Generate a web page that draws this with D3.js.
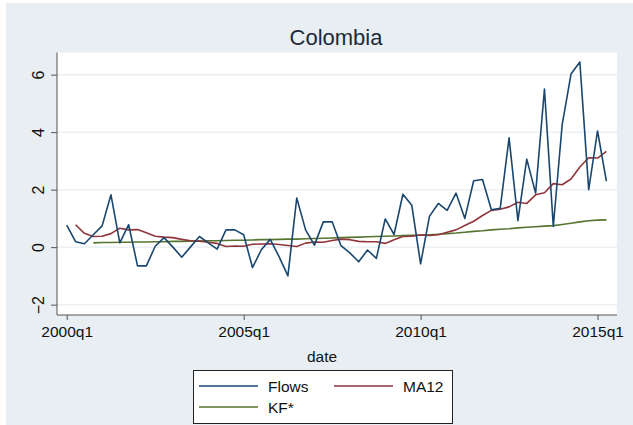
<!DOCTYPE html>
<html>
<head>
<meta charset="utf-8">
<script src="https://cdn.jsdelivr.net/npm/d3@7"></script>
<style>
  html, body { margin: 0; padding: 0; background: #ffffff; }
  svg { display: block; }
  text { font-family: "Liberation Sans", Arial, sans-serif; }
</style>
</head>
<body>
<svg id="chart" width="633" height="425"></svg>
<script>
// Quarterly capital flows for Colombia, 2000q1 - 2015q2
const startYear = 2000;
const flows = [0.77, 0.19, 0.12, 0.43, 0.74, 1.82, 0.15, 0.78, -0.65, -0.65,
               0.03, 0.33, 0.00, -0.35, 0.01, 0.37, 0.15, -0.07, 0.60, 0.60,
               0.43, -0.71, -0.09, 0.27, -0.33, -1.00, 1.71, 0.60, 0.07, 0.88,
               0.88, 0.05, -0.20, -0.51, -0.10, -0.39, 0.98, 0.44, 1.84, 1.46,
               -0.58, 1.07, 1.52, 1.28, 1.88, 1.00, 2.31, 2.35, 1.30, 1.35,
               3.80, 0.92, 3.06, 1.88, 5.50, 0.72, 4.25, 6.02, 6.44, 2.00,
               4.04, 2.30];
// 12-quarter moving average (first value missing)
const ma12 = [null, 0.78, 0.48, 0.37, 0.38, 0.47, 0.66, 0.60, 0.61, 0.50,
              0.38, 0.35, 0.33, 0.27, 0.22, 0.21, 0.17, 0.13, 0.02, 0.04,
              0.03, 0.10, 0.11, 0.12, 0.09, 0.06, 0.02, 0.14, 0.18, 0.17,
              0.23, 0.28, 0.26, 0.20, 0.19, 0.19, 0.13, 0.26, 0.37, 0.38,
              0.42, 0.41, 0.43, 0.52, 0.60, 0.75, 0.90, 1.10, 1.28, 1.32,
              1.40, 1.56, 1.52, 1.82, 1.89, 2.21, 2.17, 2.37, 2.79, 3.11,
              3.10, 3.33];
// Kalman-filtered trend (first three values missing)
const kf = [null, null, null, 0.15, 0.16, 0.16, 0.17, 0.17, 0.18, 0.18,
            0.19, 0.19, 0.20, 0.20, 0.21, 0.21, 0.22, 0.22, 0.23, 0.24,
            0.24, 0.25, 0.26, 0.26, 0.27, 0.28, 0.28, 0.29, 0.30, 0.31,
            0.32, 0.33, 0.34, 0.35, 0.36, 0.37, 0.38, 0.39, 0.40, 0.41,
            0.42, 0.43, 0.45, 0.47, 0.49, 0.52, 0.55, 0.57, 0.60, 0.62,
            0.64, 0.67, 0.69, 0.71, 0.73, 0.75, 0.79, 0.83, 0.88, 0.92,
            0.94, 0.95];
const xTickLabels = ["2000q1", "2005q1", "2010q1", "2015q1"];
const yTicks = [-2, 0, 2, 4, 6];

const seriesList = [
  { name: "Flows", values: flows, color: "#1a476f" },
  { name: "MA12",  values: ma12,  color: "#90353b" },
  { name: "KF*",   values: kf,    color: "#55752f" }
];

// quarter index of a "YYYYqN" label
const qIndex = s => (+s.slice(0, 4) - startYear) * 4 + (+s.slice(5) - 1);

const svg = d3.select("#chart");
const plot = { left: 57, right: 617, top: 52.5, bottom: 315 };

// graph region (thin white margin at top and left)
svg.append("rect").attr("width", 633).attr("height", 425).attr("fill", "#ffffff");
svg.append("rect").attr("x", 6).attr("y", 3).attr("width", 627).attr("height", 422).attr("fill", "#e8eef1");
svg.append("rect")
  .attr("x", plot.left).attr("y", plot.top)
  .attr("width", plot.right - plot.left).attr("height", plot.bottom - plot.top)
  .attr("fill", "#ffffff");

const x = d3.scaleLinear().domain([-1.1, 62.2]).range([plot.left, plot.right]);
const y = d3.scaleLinear().domain([-2.36, 6.77]).range([plot.bottom, plot.top]);

// horizontal grid
svg.append("g").selectAll("line").data(yTicks).join("line")
  .attr("x1", plot.left).attr("x2", plot.right)
  .attr("y1", d => y(d)).attr("y2", d => y(d))
  .attr("stroke", "#eaf0f3").attr("stroke-width", 1.5);

// series lines
const line = d3.line()
  .defined(d => d != null)
  .x((d, i) => x(i))
  .y(d => y(d));

svg.append("g").selectAll("path").data(seriesList.slice().reverse()).join("path")
  .attr("d", s => line(s.values))
  .attr("fill", "none")
  .attr("stroke", s => s.color)
  .attr("stroke-width", 1.6)
  .attr("stroke-linejoin", "round");

// y axis
const yAxis = d3.axisLeft(y).tickValues(yTicks).tickSize(6).tickPadding(5).tickFormat(d3.format("d"));
const gy = svg.append("g").attr("transform", `translate(${plot.left},0)`).call(yAxis);
gy.select(".domain").attr("stroke", "#555").attr("d", `M0,${plot.top}V${plot.bottom}`);
gy.selectAll(".tick line").attr("stroke", "#555");
gy.selectAll(".tick text")
  .attr("font-size", 16).attr("fill", "#111")
  .attr("text-anchor", "middle")
  .attr("x", null).attr("dy", null)
  .attr("transform", "translate(-13,0) rotate(-90)");

// x axis
const xAxis = d3.axisBottom(x)
  .tickValues(xTickLabels.map(qIndex))
  .tickSize(5).tickPadding(6)
  .tickFormat(i => xTickLabels[xTickLabels.map(qIndex).indexOf(i)]);
const gx = svg.append("g").attr("transform", `translate(0,${plot.bottom})`).call(xAxis);
gx.select(".domain").attr("stroke", "#555").attr("d", `M${plot.left},0H${plot.right}`);
gx.selectAll(".tick line").attr("stroke", "#555");
gx.selectAll(".tick text").attr("font-size", 15.5).attr("fill", "#111");

// titles
svg.append("text").attr("x", 336).attr("y", 45)
  .attr("text-anchor", "middle").attr("font-size", 22).attr("fill", "#1c2a3a")
  .text("Colombia");
svg.append("text").attr("x", 322).attr("y", 362)
  .attr("text-anchor", "middle").attr("font-size", 15.5).attr("fill", "#111")
  .text("date");

// legend
const lg = svg.append("g");
lg.append("rect").attr("x", 193.5).attr("y", 370.5).attr("width", 259).attr("height", 53)
  .attr("fill", "#ffffff").attr("stroke", "#222").attr("stroke-width", 1);
const legendPos = [
  { lx: 199, ty: 386 },
  { lx: 334, ty: 386 },
  { lx: 199, ty: 407 }
];
seriesList.forEach((s, i) => {
  const p = legendPos[i];
  lg.append("line").attr("x1", p.lx).attr("x2", p.lx + 59)
    .attr("y1", p.ty).attr("y2", p.ty)
    .attr("stroke", s.color).attr("stroke-width", 1.6);
  lg.append("text").attr("x", p.lx + 69).attr("y", p.ty + 6)
    .attr("font-size", 15.5).attr("fill", "#111").text(s.name);
});
</script>
</body>
</html>
